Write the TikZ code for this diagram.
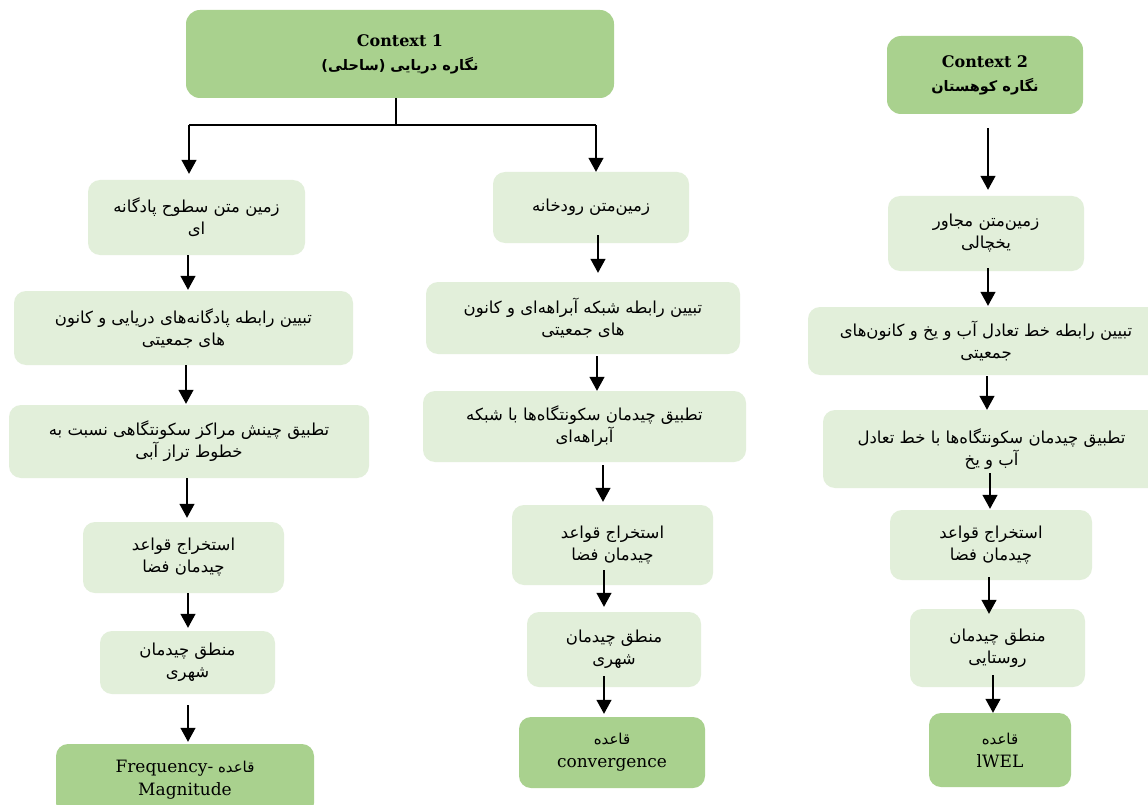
\documentclass[tikz,border=0pt]{standalone}
\usepackage{fontspec}
\setmainfont{DejaVu Serif}
\newfontfamily\arabicfont[Script=Arabic]{DejaVu Sans}
\TeXXeTstate=1
\usetikzlibrary{arrows.meta}
\definecolor{lightg}{HTML}{E2EFDA}
\definecolor{darkg}{HTML}{A9D18E}
\newcommand{\fa}[1]{\beginR#1\endR}
\tikzset{
 box/.style={fill=lightg, rounded corners=12pt, inner sep=0pt, align=center, text=black,
   font=\fontsize{16.5}{22}\selectfont\arabicfont},
 rulebox/.style={fill=darkg, rounded corners=12pt, inner sep=0pt, align=center,
   font=\fontsize{17}{23}\selectfont},
 ctx/.style={fill=darkg, rounded corners=14pt, inner sep=0pt, align=center,
   font=\fontsize{16}{24}\selectfont\bfseries},
 arr/.style={line width=1.3pt, -{Triangle[width=15pt,length=14pt]}},
 ln/.style={line width=1.3pt}
}
\begin{document}
\begin{tikzpicture}[x=1pt,y=-1pt]
\clip (0,0) rectangle (1148,805);
\fill[white] (0,0) rectangle (1148,805);

% contexts
\node[ctx, minimum width=428pt, minimum height=88pt] (C1) at (400,54)
  {Context 1\\{\arabicfont\fontsize{14.5}{24}\selectfont\bfseries\fa{نگاره دریایی (ساحلی)}}};
\node[ctx, minimum width=196pt, minimum height=78pt] (C2) at (985,75)
  {Context 2\\{\arabicfont\fontsize{14.5}{24}\selectfont\bfseries\fa{نگاره کوهستان}}};

% left column
\node[box, minimum width=217pt, minimum height=75pt] (L1) at (196.5,217.5)
  {\fa{زمین متن سطوح پادگانه}\\\fa{ای}};
\node[box, minimum width=339pt, minimum height=74pt] (L2) at (183.5,328)
  {\fa{تبیین رابطه پادگانه‌های دریایی و کانون}\\\fa{های جمعیتی}};
\node[box, minimum width=360pt, minimum height=73pt] (L3) at (189,441.5)
  {\fa{تطبیق چینش مراکز سکونتگاهی نسبت به}\\\fa{خطوط تراز آبی}};
\node[box, minimum width=201pt, minimum height=71pt] (L4) at (183.5,557.5)
  {\fa{استخراج قواعد}\\\fa{چیدمان فضا}};
\node[box, minimum width=175pt, minimum height=63pt] (L5) at (187.5,662.5)
  {\fa{منطق چیدمان}\\\fa{شهری}};
\node[rulebox, minimum width=258pt, minimum height=71pt] (L6) at (185,779.5)
  {{\arabicfont\fontsize{15}{23}\selectfont\fa{قاعده \beginL{\rmfamily\fontsize{17}{23}\selectfont Frequency-}\endL}}\\Magnitude};

% middle column
\node[box, minimum width=196pt, minimum height=71pt] (M1) at (591,207.5)
  {\fa{زمین‌متن رودخانه}};
\node[box, minimum width=314pt, minimum height=72pt] (M2) at (583,318)
  {\fa{تبیین رابطه شبکه آبراهه‌ای و کانون}\\\fa{های جمعیتی}};
\node[box, minimum width=323pt, minimum height=71pt] (M3) at (584.5,426.5)
  {\fa{تطبیق چیدمان سکونتگاه‌ها با شبکه}\\\fa{آبراهه‌ای}};
\node[box, minimum width=201pt, minimum height=80pt] (M4) at (612.5,545)
  {\fa{استخراج قواعد}\\\fa{چیدمان فضا}};
\node[box, minimum width=174pt, minimum height=75pt] (M5) at (614,649.5)
  {\fa{منطق چیدمان}\\\fa{شهری}};
\node[rulebox, minimum width=186pt, minimum height=71pt] (M6) at (612,752.5)
  {{\arabicfont\fontsize{15}{23}\selectfont\fa{قاعده}}\\convergence};

% right column
\node[box, minimum width=196pt, minimum height=75pt] (R1) at (986,233.5)
  {\fa{زمین‌متن مجاور}\\\fa{یخچالی}};
\node[box, minimum width=356pt, minimum height=68pt] (R2) at (986,341)
  {\fa{تبیین رابطه خط تعادل آب و یخ و کانون‌های}\\\fa{جمعیتی}};
\node[box, minimum width=337pt, minimum height=78pt] (R3) at (991.5,449)
  {\fa{تطبیق چیدمان سکونتگاه‌ها با خط تعادل}\\\fa{آب و یخ}};
\node[box, minimum width=202pt, minimum height=70pt] (R4) at (991,545)
  {\fa{استخراج قواعد}\\\fa{چیدمان فضا}};
\node[box, minimum width=175pt, minimum height=78pt] (R5) at (997.5,648)
  {\fa{منطق چیدمان}\\\fa{روستایی}};
\node[rulebox, minimum width=142pt, minimum height=74pt] (R6) at (1000,750)
  {{\arabicfont\fontsize{15}{23}\selectfont\fa{قاعده}}\\lWEL};

% connectors from Context 1
\coordinate (J) at (396,125);
\coordinate (JL) at (189,125);
\coordinate (JR) at (596,125);
\draw[ln] (C1.south -| J) -- (J);
\draw[ln] (JL) -- (JR);
\draw[arr, shorten >=6pt] (JL) -- (L1.north -| JL);
\draw[arr] (JR) -- (M1.north -| JR);

% left arrows
\draw[arr, shorten >=1pt] (L1.south -| 188,0) -- (L2.north -| 188,0);
\draw[arr, shorten >=1pt] (L2.south -| 186,0) -- (L3.north -| 186,0);
\draw[arr, shorten >=4pt] (L3.south -| 187,0) -- (L4.north -| 187,0);
\draw[arr, shorten >=3pt] (L4.south -| 188,0) -- (L5.north -| 188,0);
\draw[arr, shorten <=11pt, shorten >=2pt] (L5.south -| 188,0) -- (L6.north -| 188,0);

% middle arrows
\draw[arr, shorten <=-8pt, shorten >=9pt] (M1.south -| 598,0) -- (M2.north -| 598,0);
\draw[arr, shorten <=2pt] (M2.south -| 597,0) -- (M3.north -| 597,0);
\draw[arr, shorten <=3pt, shorten >=3pt] (M3.south -| 603,0) -- (M4.north -| 603,0);
\draw[arr, shorten <=-15pt, shorten >=5pt] (M4.south -| 604,0) -- (M5.north -| 604,0);
\draw[arr, shorten <=-11pt, shorten >=3pt] (M5.south -| 604,0) -- (M6.north -| 604,0);

% right arrows
\draw[arr, shorten <=14pt, shorten >=6pt] (C2.south -| 988,0) -- (R1.north -| 988,0);
\draw[arr, shorten <=-3pt, shorten >=1pt] (R1.south -| 988,0) -- (R2.north -| 988,0);
\draw[arr, shorten <=1pt] (R2.south -| 987,0) -- (R3.north -| 987,0);
\draw[arr, shorten <=-15pt, shorten >=1pt] (R3.south -| 990,0) -- (R4.north -| 990,0);
\draw[arr, shorten <=-3pt, shorten >=-5pt] (R4.south -| 989,0) -- (R5.north -| 989,0);
\draw[arr, shorten <=-12pt] (R5.south -| 993,0) -- (R6.north -| 993,0);
\end{tikzpicture}
\end{document}
